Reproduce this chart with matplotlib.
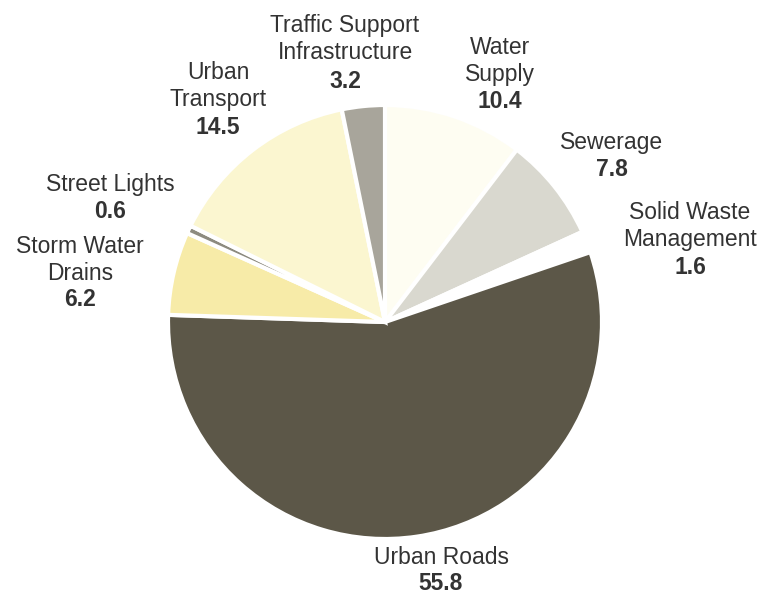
import matplotlib.pyplot as plt

# datos del grafico (porcentaje de inversion)
categorias = ['Water\nSupply', 'Sewerage', 'Solid Waste\nManagement', 'Urban Roads',
              'Storm Water\nDrains', 'Street Lights', 'Urban\nTransport',
              'Traffic Support\nInfrastructure']
valores = [10.4, 7.8, 1.6, 55.8, 6.2, 0.6, 14.5, 3.2]

colores = ['#fefdf2', '#d9d8cf', '#ffffff', '#5c5748',
           '#f7eba8', '#8d8b80', '#fbf6d0', '#a8a59b']

# posicion de cada etiqueta (pixeles: x, y del nombre, y del valor)
pos_etiquetas = [(500, 61, 102), (612, 143, 170), (690, 226, 268), (441, 557, 583),
                 (80, 260, 300), (110, 184, 211), (218, 86, 128), (345, 39, 82)]

W, H = 764, 594
fig = plt.figure(figsize=(W / 100, H / 100), dpi=100)
ax = fig.add_axes([0, 0, 1, 1])

ax.pie(valores, colors=colores, startangle=90, counterclock=False,
       center=(385, H - 322), radius=217,
       wedgeprops=dict(edgecolor='white', linewidth=3))

# pie() cambia los limites, se ponen despues
ax.set_xlim(0, W)
ax.set_ylim(0, H)
ax.set_aspect('equal')
ax.axis('off')

fuente = ['Liberation Sans', 'DejaVu Sans']
for nombre, valor, (x, yn, yv) in zip(categorias, valores, pos_etiquetas):
    ax.text(x, H - yn, nombre, ha='center', va='center', fontsize=16.5,
            color='#333333', family=fuente, linespacing=1.2)
    ax.text(x, H - yv, f'{valor}', ha='center', va='center', fontsize=16.5,
            color='#333333', family=fuente, fontweight='bold')

fig.savefig('out.png', dpi=100)
